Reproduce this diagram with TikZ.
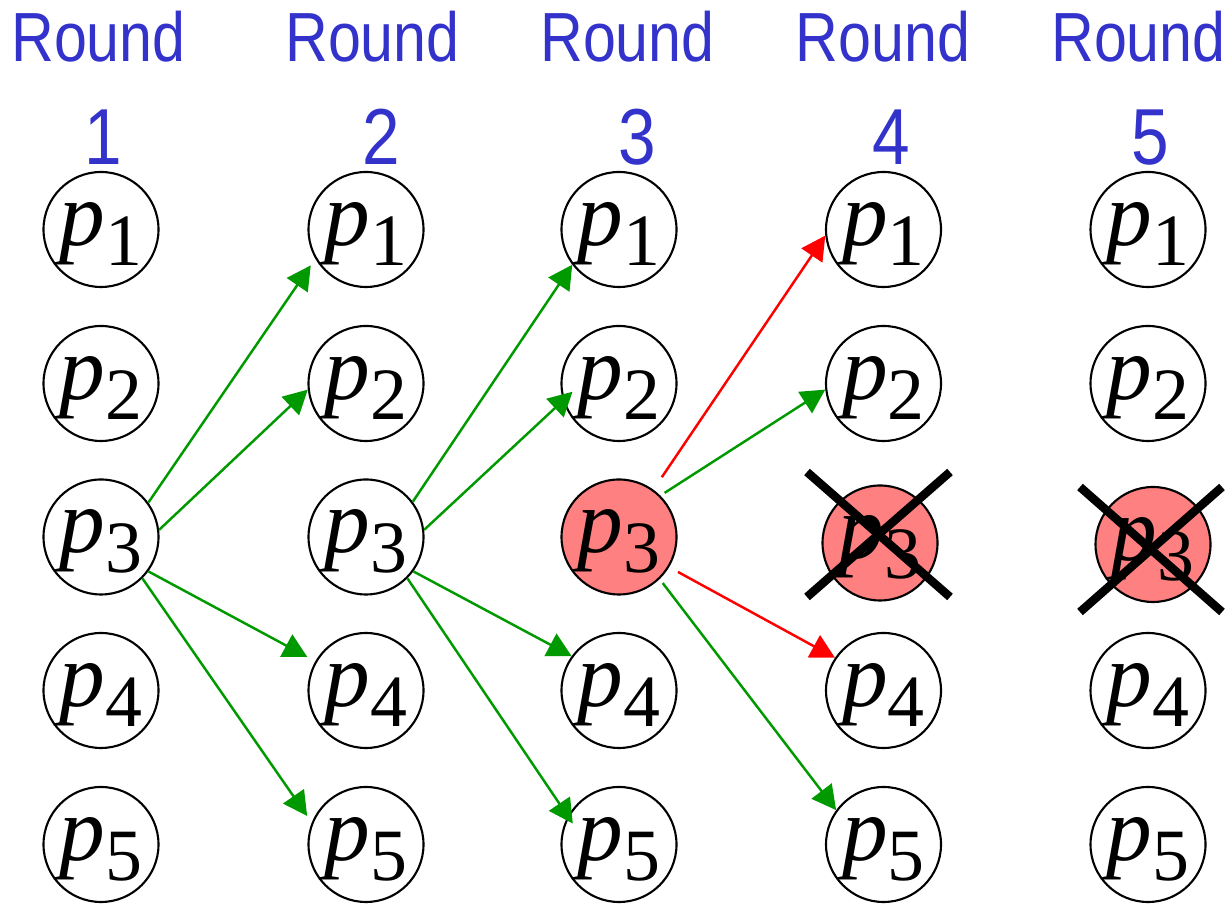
\documentclass[tikz,border=0pt]{standalone}
\usepackage{fontspec}
\setmainfont{Liberation Serif}
\newfontfamily\roundfont[FakeStretch=0.85]{Liberation Sans}
\usetikzlibrary{arrows.meta}
\definecolor{roundblue}{RGB}{51,51,204}
\definecolor{sendgreen}{RGB}{0,153,0}
\definecolor{crashred}{RGB}{255,128,128}
\newcommand{\pid}[1]{\rule{0pt}{.52cm}{\itshape p}\raisebox{-.2cm}{\fontsize{21}{21}\selectfont#1}}
\begin{document}
\begin{tikzpicture}[
	proc/.style={circle,draw,line width=.6pt,minimum size=1.15cm,inner sep=0pt,font=\fontsize{26}{26}\selectfont},
	crashed/.style={proc,fill=crashred},
	head/.style={anchor=base,text=roundblue,font=\roundfont\fontsize{19.8}{19.8}\selectfont},
	num/.style={anchor=base,text=roundblue,font=\roundfont\fontsize{22.6}{22.6}\selectfont},
	msg/.style={-{Triangle[length=.24cm,width=.25cm]},line width=.7pt,sendgreen},
	lost/.style={msg,red},
	cross/.style={line width=.085cm}]
	\useasboundingbox(0,0)rectangle(12.3,9.04);
	\node[head](r1)at(.985,8.42){Round};
	\node[head](r2)at(3.725,8.42){Round};
	\node[head](r3)at(6.275,8.42){Round};
	\node[head](r4)at(8.83,8.42){Round};
	\node[head](r5)at(11.385,8.42){Round};
	\node[num](n1)at(1.03,7.39){1};
	\node[num](n2)at(3.81,7.39){2};
	\node[num](n3)at(6.37,7.39){3};
	\node[num](n4)at(8.91,7.39){4};
	\node[num](n5)at(11.5,7.39){5};
	\node[proc](c1p1)at(1.01,6.745){\pid1};
	\node[proc](c1p2)at(1.01,5.205){\pid2};
	\node[proc](c1p3)at(1.01,3.67){\pid3};
	\node[proc](c1p4)at(1.01,2.135){\pid4};
	\node[proc](c1p5)at(1.01,.595){\pid5};
	\node[proc](c2p1)at(3.66,6.745){\pid1};
	\node[proc](c2p2)at(3.66,5.205){\pid2};
	\node[proc](c2p3)at(3.66,3.67){\pid3};
	\node[proc](c2p4)at(3.66,2.135){\pid4};
	\node[proc](c2p5)at(3.66,.595){\pid5};
	\node[proc](c3p1)at(6.19,6.745){\pid1};
	\node[proc](c3p2)at(6.19,5.205){\pid2};
	\node[crashed](c3p3)at(6.19,3.67){\pid3};
	\node[proc](c3p4)at(6.19,2.135){\pid4};
	\node[proc](c3p5)at(6.19,.595){\pid5};
	\node[proc](c4p1)at(8.835,6.745){\pid1};
	\node[proc](c4p2)at(8.835,5.205){\pid2};
	\node[crashed](c4p3)at(8.8,3.61){\pid3};
	\node[proc](c4p4)at(8.835,2.135){\pid4};
	\node[proc](c4p5)at(8.835,.595){\pid5};
	\node[proc](c5p1)at(11.48,6.745){\pid1};
	\node[proc](c5p2)at(11.48,5.205){\pid2};
	\node[crashed](c5p3)at(11.53,3.595){\pid3};
	\node[proc](c5p4)at(11.48,2.135){\pid4};
	\node[proc](c5p5)at(11.48,.595){\pid5};
	\draw[msg,shorten >=.08cm](c1p3.36)--(c2p1.210);
	\draw[msg](c1p3.7)--(c2p2.186);
	\draw[msg,shorten >=.09cm](c1p3.324)--(c2p4.150);
	\draw[msg,shorten >=.08cm](c1p3.315)--(c2p5.158);
	\draw[msg](c2p3.37)--(c3p1.217);
	\draw[msg,shorten >=-.13cm](c2p3.7)--(c3p2.197);
	\draw[msg](c2p3.324)--(c3p4.144);
	\draw[msg,shorten >=-.09cm](c2p3.315)--(c3p5.151);
	\draw[lost,shorten <=.15cm](c3p3.54)--(c4p1.186);
	\draw[msg,shorten <=.05cm](c3p3.45)--(c4p2.186);
	\draw[lost,shorten <=.1cm](c3p3.329)--(c4p4.146);
	\draw[msg,shorten <=.05cm](c3p3.314)--(c4p5.144);
	\draw[cross](8.07,4.32)--(9.5,3.07);
	\draw[cross](8.07,3.07)--(9.5,4.32);
	\draw[cross](10.8,4.17)--(12.22,2.92);
	\draw[cross](10.8,2.92)--(12.22,4.17);
\end{tikzpicture}
\end{document}
